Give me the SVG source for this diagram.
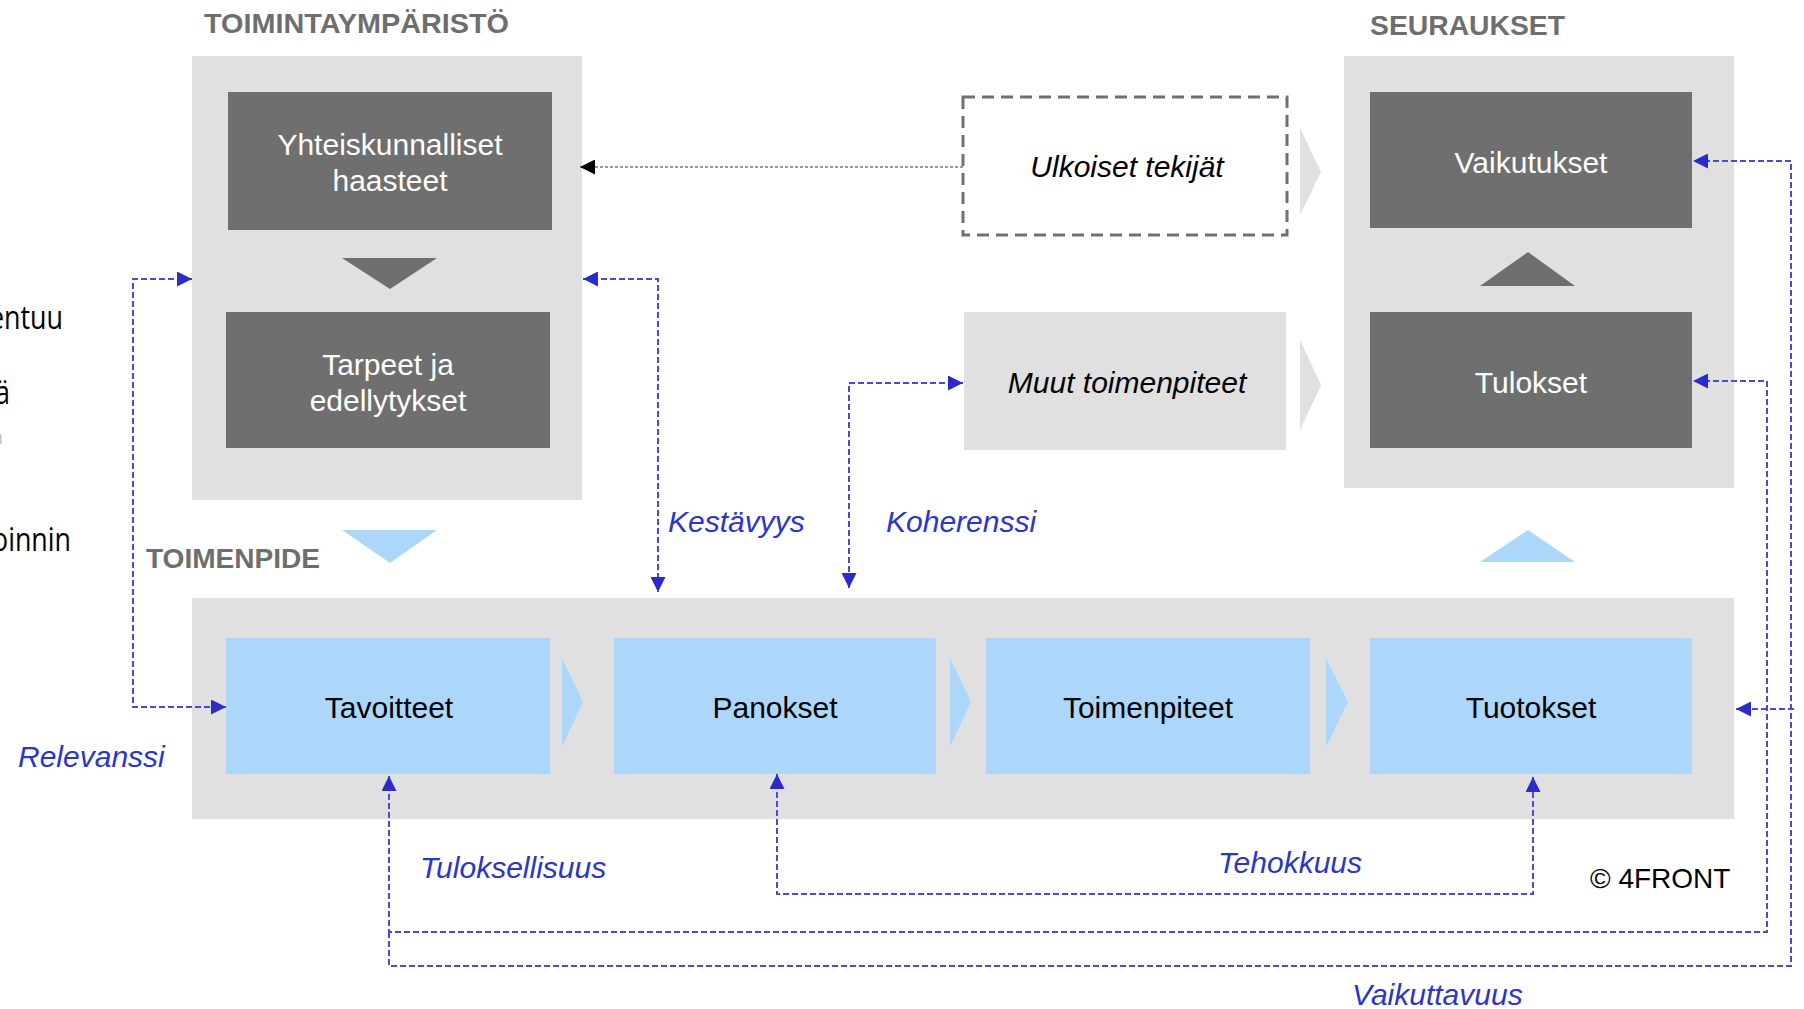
<svg xmlns="http://www.w3.org/2000/svg" width="1804" height="1009" viewBox="0 0 1804 1009">
<style>
.bg{fill:#ffffff}
.panel{fill:#e0e0e0}
.dark{fill:#6f6f6f}
.light{fill:#acd7fb}
.head{font-family:"Liberation Sans",Arial,sans-serif;font-weight:bold;font-size:28px;fill:#6e6e6e}
.wt{font-family:"Liberation Sans",Arial,sans-serif;font-size:30px;fill:#ffffff;text-anchor:middle}
.bt{font-family:"Liberation Sans",Arial,sans-serif;font-size:30px;fill:#000000;text-anchor:middle}
.it{font-family:"Liberation Sans",Arial,sans-serif;font-size:30px;font-style:italic;fill:#000000;text-anchor:middle}
.lbl{font-family:"Liberation Sans",Arial,sans-serif;font-size:30px;font-style:italic;fill:#2b36c8}
.cut{font-family:"Open Sans","Liberation Sans",sans-serif;font-size:32px;fill:#000000;text-anchor:end}
.conn{fill:none;stroke:#4a4ad6;stroke-width:2;stroke-dasharray:6 3}
.dot{fill:none;stroke:#9a9a9a;stroke-width:2;stroke-dasharray:3 2}
</style>
<defs>
<marker id="ab" viewBox="0 0 15 15" refX="15" refY="7.5" markerWidth="15" markerHeight="15" markerUnits="userSpaceOnUse" orient="auto-start-reverse">
<path d="M0,0 L15,7.5 L0,15 Z" fill="#2b2bcb"/>
</marker>
<marker id="ak" viewBox="0 0 15 15" refX="15" refY="7.5" markerWidth="15" markerHeight="15" markerUnits="userSpaceOnUse" orient="auto-start-reverse">
<path d="M0,0 L15,7.5 L0,15 Z" fill="#000000"/>
</marker>
</defs>
<rect class="bg" x="0" y="0" width="1804" height="1009"/>

<g id="cut-texts">
<text class="cut" x="63" y="329" textLength="74" lengthAdjust="spacingAndGlyphs">entuu</text>
<text class="cut" x="10" y="404" textLength="15" lengthAdjust="spacingAndGlyphs">ä</text>
<text class="cut" x="3" y="444" style="font-size:20px;fill:#c0c0c0">n</text>
<text class="cut" x="71" y="551" textLength="79" lengthAdjust="spacingAndGlyphs">oinnin</text>
</g>

<g id="toimintaymparisto">
<text class="head" x="204" y="33" textLength="305" lengthAdjust="spacingAndGlyphs">TOIMINTAYMPÄRISTÖ</text>
<rect class="panel" x="192" y="56" width="390" height="444"/>
</g>
<g id="yhteiskunnalliset-haasteet">
<rect class="dark" x="228" y="92" width="324" height="138"/>
<text class="wt" x="390" y="155">Yhteiskunnalliset</text>
<text class="wt" x="390" y="191">haasteet</text>
</g>
<polygon class="dark" points="342,258 437,258 390,289"/>
<g id="tarpeet">
<rect class="dark" x="226" y="312" width="324" height="136"/>
<text class="wt" x="388" y="375">Tarpeet ja</text>
<text class="wt" x="388" y="411">edellytykset</text>
</g>

<g id="ulkoiset">
<rect x="963" y="97" width="324" height="138" fill="none" stroke="#707070" stroke-width="3" stroke-dasharray="12 7"/>
<text class="it" x="1127" y="177">Ulkoiset tekijät</text>
</g>
<polygon class="panel" points="1300,128 1321,172 1300,215"/>
<g id="muut">
<rect class="panel" x="964" y="312" width="322" height="138"/>
<text class="it" x="1127" y="393">Muut toimenpiteet</text>
</g>
<polygon class="panel" points="1300,340 1321,385 1300,430"/>

<g id="seuraukset">
<text class="head" x="1370" y="35" textLength="195" lengthAdjust="spacingAndGlyphs">SEURAUKSET</text>
<rect class="panel" x="1344" y="56" width="390" height="432"/>
</g>
<g id="vaikutukset">
<rect class="dark" x="1370" y="92" width="322" height="136"/>
<text class="wt" x="1531" y="173">Vaikutukset</text>
</g>
<polygon class="dark" points="1480,286 1575,286 1528,252"/>
<g id="tulokset">
<rect class="dark" x="1370" y="312" width="322" height="136"/>
<text class="wt" x="1531" y="393">Tulokset</text>
</g>

<g id="toimenpide">
<text class="head" x="146" y="568" textLength="174" lengthAdjust="spacingAndGlyphs">TOIMENPIDE</text>
<polygon class="light" points="342,530 437,530 390,563"/>
<polygon class="light" points="1480,562 1575,562 1528,530"/>
<rect class="panel" x="192" y="598" width="1542" height="221"/>
</g>
<g id="tavoitteet">
<rect class="light" x="226" y="638" width="324" height="136"/>
<text class="bt" x="389" y="718">Tavoitteet</text>
</g>
<polygon class="light" points="562,658 583,702 562,747"/>
<g id="panokset">
<rect class="light" x="614" y="638" width="322" height="136"/>
<text class="bt" x="775" y="718">Panokset</text>
</g>
<polygon class="light" points="950,658 971,702 950,747"/>
<g id="toimenpiteet">
<rect class="light" x="986" y="638" width="324" height="136"/>
<text class="bt" x="1148" y="718">Toimenpiteet</text>
</g>
<polygon class="light" points="1326,658 1348,702 1326,747"/>
<g id="tuotokset">
<rect class="light" x="1370" y="638" width="322" height="136"/>
<text class="bt" x="1531" y="718">Tuotokset</text>
</g>

<g id="connectors">
<path class="dot" d="M963,167 H580" marker-end="url(#ak)"/>
<path class="conn" d="M192,279 H133 V707 H226" marker-start="url(#ab)" marker-end="url(#ab)"/>
<path class="conn" d="M583,279 H658 V592" marker-start="url(#ab)" marker-end="url(#ab)"/>
<path class="conn" d="M963,383 H849 V588" marker-start="url(#ab)" marker-end="url(#ab)"/>
<path class="conn" d="M777,774 V894 H1533 V777" marker-start="url(#ab)" marker-end="url(#ab)"/>
<path class="conn" d="M389,776 V932 H1767 V381 H1693" marker-start="url(#ab)" marker-end="url(#ab)"/>
<path class="conn" d="M389,932 V966 H1791 V161 H1693" marker-end="url(#ab)"/>
<path class="conn" d="M1794,709 H1736" marker-end="url(#ab)"/>
</g>

<g id="labels">
<text class="lbl" x="18" y="767">Relevanssi</text>
<text class="lbl" x="668" y="532">Kestävyys</text>
<text class="lbl" x="886" y="532">Koherenssi</text>
<text class="lbl" x="420" y="878">Tuloksellisuus</text>
<text class="lbl" x="1218" y="873">Tehokkuus</text>
<text class="lbl" x="1352" y="1005">Vaikuttavuus</text>
<text x="1590" y="888" style="font-family:'Liberation Sans',Arial,sans-serif;font-size:28px;fill:#000000">© 4FRONT</text>
</g>
</svg>
